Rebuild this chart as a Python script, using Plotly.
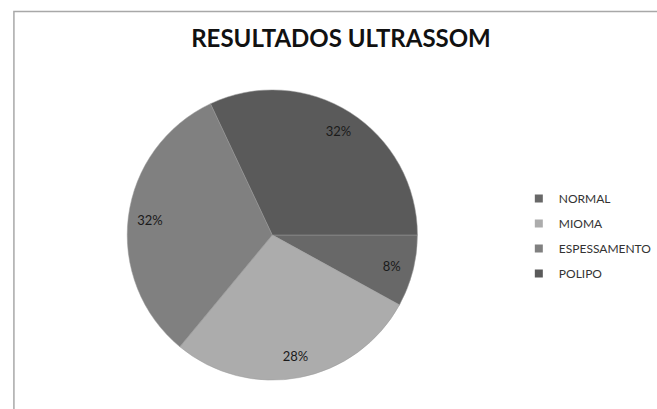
import plotly.graph_objects as go

categories = ["NORMAL", "MIOMA", "ESPESSAMENTO", "POLIPO"]
values = [2, 7, 8, 8]
colors = ["#686868", "#acacac", "#808080", "#5a5a5a"]

W, H = 657, 409
cx, cy, r = 274, 235, 146
dom_x = [(cx - r) / W, (cx + r) / W]
dom_y = [(H - (cy + r)) / H, (H - (cy - r)) / H]

fig = go.Figure()
# Full pie with colours (no text)
fig.add_trace(go.Pie(
    labels=categories, values=values, sort=False, direction="clockwise",
    rotation=90, marker=dict(colors=colors, line=dict(color="#9a9a9a", width=0.5)),
    textinfo="none", domain=dict(x=dom_x, y=dom_y), showlegend=False,
    hoverinfo="label+percent",
))
# Transparent ring carrying percentage labels near the outer edge
fig.add_trace(go.Pie(
    labels=categories, values=values, sort=False, direction="clockwise",
    rotation=90, hole=0.7,
    marker=dict(colors=["rgba(0,0,0,0)"] * 4, line=dict(width=0)),
    textinfo="percent", textposition="inside", insidetextorientation="horizontal",
    textfont=dict(family="Lato, Open Sans, sans-serif", size=13, color="#1a1a1a"),
    domain=dict(x=dom_x, y=dom_y), showlegend=False, hoverinfo="skip",
))
# Legend entries (one per category, square swatches)
for cat, col in zip(categories, colors):
    fig.add_trace(go.Scatter(
        x=[None], y=[None], mode="markers", name=cat, legendgroup=cat,
        marker=dict(symbol="square", size=8, color=col), showlegend=True,
    ))

fig.update_layout(
    width=W, height=H,
    margin=dict(l=0, r=0, t=0, b=0),
    paper_bgcolor="white", plot_bgcolor="white",
    xaxis=dict(visible=False), yaxis=dict(visible=False),
    title=dict(text="<b>RESULTADOS ULTRASSOM</b>", x=341 / W, xanchor="center",
               y=1 - 39 / H, yanchor="middle",
               font=dict(family="Lato, Open Sans, sans-serif", size=24, color="#111111")),
    legend=dict(x=522 / W, xanchor="left", y=1 - 184 / H, yanchor="top",
                font=dict(family="Lato, Open Sans, sans-serif", size=12, color="#333333"),
                bgcolor="rgba(0,0,0,0)", traceorder="grouped", tracegroupgap=6),
    shapes=[dict(type="rect", xref="paper", yref="paper",
                 x0=14 / W, x1=1.5, y0=-0.5, y1=1 - 11.5 / H,
                 line=dict(color="#a8a8a8", width=1.5), fillcolor="rgba(0,0,0,0)")],
)

fig.write_html(
    "out.html",
    config={"displayModeBar": False},
    post_script="document.body.style.margin='0';document.body.style.overflow='hidden';",
)
